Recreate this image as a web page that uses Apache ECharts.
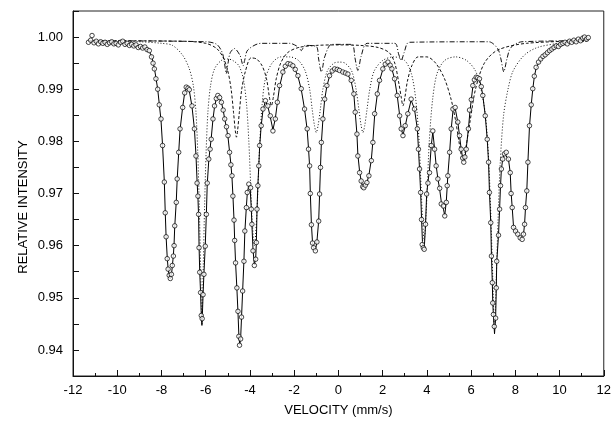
<!DOCTYPE html>
<html><head><meta charset="utf-8">
<script src="https://cdn.jsdelivr.net/npm/echarts@6/dist/echarts.min.js"></script>
<style>html,body{margin:0;padding:0;background:#fff}#c{width:614px;height:424px}</style>
</head><body><div id="c"></div>
<script>
// measured points (velocity mm/s, relative intensity)
const dataV = [-11.30,-11.20,-11.14,-11.05,-10.95,-10.85,-10.75,-10.65,-10.55,-10.45,-10.35,-10.25,-10.15,-10.05,-9.95,-9.85,-9.75,-9.65,-9.55,-9.45,-9.35,-9.25,-9.15,-9.05,-8.95,-8.85,-8.75,-8.65,-8.55,-8.45,-8.38,-8.32,-8.25,-8.17,-8.10,-8.02,-7.95,-7.87,-7.83,-7.79,-7.74,-7.70,-7.65,-7.60,-7.55,-7.51,-7.46,-7.43,-7.40,-7.33,-7.29,-7.22,-7.16,-7.04,-6.95,-6.88,-6.80,-6.74,-6.62,-6.51,-6.44,-6.39,-6.35,-6.32,-6.30,-6.27,-6.23,-6.20,-6.16,-6.12,-6.08,-6.02,-5.97,-5.93,-5.86,-5.80,-5.75,-5.67,-5.60,-5.52,-5.45,-5.37,-5.29,-5.21,-5.14,-5.06,-4.99,-4.92,-4.86,-4.81,-4.77,-4.72,-4.69,-4.65,-4.59,-4.54,-4.50,-4.47,-4.42,-4.38,-4.33,-4.27,-4.23,-4.16,-4.12,-4.05,-3.97,-3.94,-3.91,-3.86,-3.80,-3.74,-3.71,-3.68,-3.64,-3.60,-3.56,-3.49,-3.41,-3.30,-3.19,-3.08,-2.96,-2.85,-2.76,-2.66,-2.51,-2.40,-2.28,-2.17,-2.06,-1.95,-1.83,-1.68,-1.53,-1.41,-1.35,-1.30,-1.27,-1.22,-1.17,-1.12,-1.04,-0.97,-0.89,-0.85,-0.81,-0.77,-0.70,-0.62,-0.52,-0.40,-0.28,-0.17,-0.05,0.05,0.20,0.32,0.43,0.58,0.70,0.76,0.84,0.88,0.96,1.03,1.10,1.15,1.22,1.29,1.38,1.49,1.56,1.64,1.76,1.86,2.01,2.12,2.24,2.34,2.42,2.54,2.66,2.77,2.84,2.92,3.02,3.14,3.29,3.44,3.57,3.62,3.67,3.72,3.76,3.79,3.84,3.88,3.94,3.99,4.05,4.12,4.20,4.27,4.35,4.42,4.50,4.58,4.65,4.75,4.81,4.88,4.92,4.95,5.03,5.10,5.18,5.28,5.40,5.48,5.55,5.62,5.67,5.72,5.78,5.88,5.93,6.01,6.08,6.15,6.23,6.30,6.38,6.46,6.53,6.64,6.73,6.79,6.83,6.89,6.92,6.96,6.98,7.01,7.05,7.11,7.14,7.16,7.24,7.29,7.33,7.37,7.43,7.51,7.59,7.69,7.77,7.81,7.86,7.92,8.01,8.11,8.22,8.31,8.37,8.42,8.46,8.52,8.57,8.64,8.72,8.79,8.86,8.94,9.05,9.15,9.25,9.35,9.45,9.55,9.65,9.75,9.85,9.95,10.05,10.15,10.25,10.35,10.45,10.55,10.65,10.75,10.85,10.95,11.05,11.13,11.22,11.30];
const dataY = [0.9990,0.9994,1.0003,0.9989,0.9992,0.9987,0.9991,0.9988,0.9990,0.9986,0.9989,0.9991,0.9987,0.9988,0.9985,0.9990,0.9992,0.9986,0.9988,0.9984,0.9986,0.9983,0.9985,0.9980,0.9982,0.9979,0.9981,0.9976,0.9974,0.9962,0.9950,0.9939,0.9920,0.9900,0.9870,0.9843,0.9792,0.9722,0.9663,0.9617,0.9575,0.9555,0.9543,0.9537,0.9545,0.9562,0.9580,0.9600,0.9638,0.9683,0.9728,0.9779,0.9824,0.9865,0.9893,0.9904,0.9902,0.9899,0.9868,0.9824,0.9772,0.9720,0.9695,0.9660,0.9596,0.9549,0.9510,0.9466,0.9460,0.9506,0.9545,0.9599,0.9660,0.9720,0.9766,0.9785,0.9804,0.9843,0.9868,0.9882,0.9888,0.9884,0.9875,0.9860,0.9843,0.9828,0.9811,0.9779,0.9755,0.9734,0.9695,0.9649,0.9610,0.9567,0.9519,0.9474,0.9426,0.9409,0.9421,0.9463,0.9513,0.9570,0.9628,0.9673,0.9702,0.9718,0.9711,0.9670,0.9641,0.9590,0.9562,0.9574,0.9606,0.9670,0.9715,0.9753,0.9792,0.9830,0.9862,0.9878,0.9868,0.9849,0.9820,0.9843,0.9875,0.9907,0.9933,0.9944,0.9949,0.9948,0.9945,0.9938,0.9926,0.9901,0.9862,0.9824,0.9785,0.9753,0.9700,0.9640,0.9605,0.9596,0.9590,0.9607,0.9647,0.9699,0.9750,0.9798,0.9843,0.9881,0.9907,0.9926,0.9935,0.9939,0.9938,0.9936,0.9933,0.9931,0.9929,0.9917,0.9891,0.9856,0.9814,0.9772,0.9740,0.9724,0.9713,0.9711,0.9716,0.9721,0.9734,0.9763,0.9798,0.9853,0.9891,0.9917,0.9939,0.9948,0.9952,0.9946,0.9939,0.9920,0.9888,0.9849,0.9824,0.9811,0.9830,0.9853,0.9881,0.9862,0.9824,0.9785,0.9747,0.9702,0.9650,0.9602,0.9596,0.9593,0.9641,0.9699,0.9720,0.9740,0.9792,0.9820,0.9785,0.9753,0.9728,0.9710,0.9680,0.9676,0.9657,0.9683,0.9715,0.9734,0.9779,0.9824,0.9862,0.9865,0.9837,0.9811,0.9785,0.9768,0.9760,0.9770,0.9785,0.9824,0.9860,0.9880,0.9907,0.9918,0.9923,0.9922,0.9920,0.9905,0.9888,0.9849,0.9804,0.9760,0.9702,0.9644,0.9580,0.9529,0.9490,0.9468,0.9445,0.9461,0.9519,0.9570,0.9620,0.9670,0.9715,0.9747,0.9766,0.9776,0.9779,0.9766,0.9740,0.9700,0.9673,0.9635,0.9628,0.9622,0.9615,0.9612,0.9622,0.9641,0.9673,0.9705,0.9760,0.9830,0.9870,0.9901,0.9925,0.9942,0.9952,0.9958,0.9963,0.9966,0.9970,0.9974,0.9977,0.9980,0.9983,0.9982,0.9986,0.9988,0.9990,0.9987,0.9992,0.9990,0.9994,0.9991,0.9996,0.9993,0.9998,1.0000,0.9996,0.9999];

// fitted envelope (solid line)
const fitV = [-11.3,-10.5,-9.8,-9.3,-9.0,-8.75,-8.55,-8.45,-8.38,-8.32,-8.25,-8.17,-8.10,-8.02,-7.95,-7.87,-7.83,-7.79,-7.74,-7.70,-7.65,-7.60,-7.55,-7.51,-7.46,-7.43,-7.40,-7.33,-7.29,-7.22,-7.16,-7.04,-6.95,-6.88,-6.80,-6.74,-6.62,-6.51,-6.44,-6.39,-6.35,-6.32,-6.30,-6.27,-6.23,-6.20,-6.17,-6.14,-6.12,-6.08,-6.02,-5.97,-5.93,-5.86,-5.80,-5.75,-5.67,-5.60,-5.52,-5.45,-5.37,-5.29,-5.21,-5.14,-5.06,-4.99,-4.92,-4.86,-4.81,-4.77,-4.72,-4.69,-4.65,-4.59,-4.54,-4.50,-4.46,-4.42,-4.38,-4.33,-4.27,-4.23,-4.16,-4.12,-4.05,-3.99,-3.94,-3.91,-3.86,-3.80,-3.74,-3.71,-3.68,-3.64,-3.60,-3.56,-3.49,-3.41,-3.30,-3.19,-3.08,-2.96,-2.85,-2.76,-2.66,-2.51,-2.40,-2.28,-2.17,-2.06,-1.95,-1.83,-1.68,-1.53,-1.41,-1.35,-1.30,-1.27,-1.22,-1.17,-1.12,-1.04,-0.97,-0.89,-0.85,-0.81,-0.77,-0.70,-0.62,-0.52,-0.40,-0.28,-0.17,-0.05,0.05,0.20,0.32,0.43,0.58,0.70,0.76,0.84,0.88,0.96,1.03,1.10,1.15,1.22,1.29,1.38,1.49,1.56,1.64,1.76,1.86,2.01,2.12,2.24,2.34,2.42,2.54,2.66,2.77,2.84,2.92,3.02,3.14,3.29,3.44,3.57,3.62,3.67,3.72,3.76,3.80,3.84,3.88,3.94,3.99,4.05,4.12,4.20,4.27,4.35,4.42,4.50,4.58,4.65,4.75,4.81,4.88,4.92,4.95,5.03,5.10,5.18,5.28,5.40,5.48,5.55,5.62,5.67,5.72,5.78,5.88,5.95,6.01,6.08,6.15,6.23,6.30,6.38,6.46,6.53,6.64,6.73,6.79,6.83,6.89,6.92,6.96,6.98,7.01,7.06,7.11,7.14,7.16,7.24,7.29,7.33,7.37,7.43,7.51,7.59,7.69,7.77,7.81,7.86,7.92,8.01,8.11,8.22,8.31,8.37,8.42,8.46,8.52,8.57,8.64,8.72,8.79,8.86,8.94,9.05,9.25,9.5,9.8,10.2,10.7,11.3];
const fitY = [0.9991,0.9990,0.9988,0.9985,0.9982,0.9978,0.9972,0.9964,0.9952,0.9940,0.9922,0.9900,0.9872,0.9840,0.9792,0.9722,0.9665,0.9617,0.9578,0.9556,0.9542,0.9536,0.9543,0.9560,0.9582,0.9603,0.9636,0.9685,0.9726,0.9779,0.9822,0.9866,0.9893,0.9903,0.9902,0.9897,0.9867,0.9824,0.9774,0.9724,0.9692,0.9655,0.9600,0.9550,0.9508,0.9468,0.9447,0.9480,0.9506,0.9546,0.9600,0.9660,0.9718,0.9764,0.9787,0.9806,0.9843,0.9866,0.9882,0.9887,0.9884,0.9875,0.9860,0.9843,0.9826,0.9808,0.9780,0.9756,0.9730,0.9697,0.9650,0.9611,0.9568,0.9518,0.9472,0.9428,0.9410,0.9422,0.9462,0.9513,0.9572,0.9626,0.9675,0.9700,0.9716,0.9710,0.9672,0.9640,0.9592,0.9563,0.9575,0.9605,0.9668,0.9716,0.9752,0.9790,0.9830,0.9860,0.9877,0.9867,0.9847,0.9822,0.9844,0.9874,0.9905,0.9932,0.9943,0.9948,0.9947,0.9944,0.9937,0.9925,0.9900,0.9862,0.9822,0.9786,0.9752,0.9702,0.9642,0.9606,0.9595,0.9590,0.9608,0.9648,0.9698,0.9750,0.9796,0.9842,0.9880,0.9906,0.9925,0.9935,0.9938,0.9937,0.9936,0.9933,0.9931,0.9928,0.9915,0.9890,0.9857,0.9813,0.9775,0.9742,0.9724,0.9713,0.9711,0.9715,0.9721,0.9735,0.9765,0.9800,0.9850,0.9890,0.9916,0.9938,0.9947,0.9950,0.9946,0.9939,0.9920,0.9888,0.9850,0.9825,0.9812,0.9829,0.9853,0.9879,0.9862,0.9824,0.9786,0.9746,0.9702,0.9652,0.9608,0.9596,0.9592,0.9640,0.9698,0.9722,0.9745,0.9792,0.9818,0.9786,0.9754,0.9728,0.9708,0.9685,0.9670,0.9658,0.9685,0.9713,0.9735,0.9779,0.9823,0.9858,0.9864,0.9837,0.9810,0.9786,0.9768,0.9761,0.9769,0.9786,0.9824,0.9858,0.9880,0.9905,0.9917,0.9922,0.9921,0.9918,0.9905,0.9888,0.9850,0.9804,0.9760,0.9704,0.9644,0.9582,0.9530,0.9492,0.9465,0.9431,0.9462,0.9518,0.9568,0.9620,0.9670,0.9714,0.9746,0.9766,0.9776,0.9779,0.9766,0.9740,0.9702,0.9673,0.9636,0.9627,0.9621,0.9615,0.9612,0.9621,0.9642,0.9672,0.9706,0.9760,0.9828,0.9870,0.9900,0.9924,0.9940,0.9950,0.9962,0.9972,0.9981,0.9988,0.9993,0.9996];

// subspectrum 1 (fine dotted)
const c1V = [-11.3,-9.0,-8.0,-7.5,-7.04,-6.74,-6.56,-6.44,-6.36,-6.29,-6.23,-6.17,-6.11,-6.05,-5.98,-5.90,-5.78,-5.60,-5.30,-5.00,-4.77,-4.50,-4.30,-4.15,-4.05,-3.97,-3.90,-3.80,-3.70,-3.63,-3.55,-3.45,-3.30,-3.00,-2.60,-2.20,-1.80,-1.50,-1.30,-1.18,-1.08,-1.00,-0.92,-0.82,-0.70,-0.50,-0.20,0.05,0.30,0.60,0.80,0.93,1.03,1.11,1.19,1.29,1.42,1.62,2.00,2.50,3.00,3.30,3.50,3.65,3.75,3.82,3.88,3.94,4.01,4.11,4.26,4.46,4.80,5.30,5.80,6.20,6.45,6.65,6.80,6.90,6.98,7.06,7.14,7.22,7.32,7.47,7.67,7.90,8.40,9.00,10.0,11.3];
const c1Y = [0.9993,0.9991,0.9988,0.9984,0.9965,0.9939,0.9907,0.9856,0.9780,0.9676,0.9560,0.9450,0.9560,0.9676,0.9780,0.9856,0.9907,0.9939,0.9955,0.9958,0.9955,0.9945,0.9920,0.9870,0.9800,0.9720,0.9650,0.9600,0.9650,0.9720,0.9800,0.9870,0.9920,0.9950,0.9962,0.9962,0.9955,0.9935,0.9900,0.9860,0.9830,0.9817,0.9830,0.9860,0.9900,0.9935,0.9950,0.9952,0.9950,0.9935,0.9900,0.9860,0.9830,0.9817,0.9830,0.9860,0.9900,0.9935,0.9955,0.9962,0.9955,0.9930,0.9880,0.9800,0.9700,0.9640,0.9610,0.9640,0.9700,0.9800,0.9880,0.9930,0.9955,0.9962,0.9955,0.9935,0.9900,0.9850,0.9760,0.9650,0.9540,0.9440,0.9540,0.9650,0.9760,0.9850,0.9900,0.9935,0.9965,0.9980,0.9988,0.9992];

// subspectrum 2 (dashed)
const c2V = [-11.3,-7.0,-6.0,-5.5,-5.2,-5.0,-4.85,-4.74,-4.66,-4.61,-4.56,-4.48,-4.37,-4.20,-3.95,-3.70,-3.45,-3.25,-3.12,-3.03,-2.94,-2.81,-2.61,-2.30,-1.8,-1.0,0.0,1.0,1.8,2.30,2.55,2.74,2.84,2.92,3.01,3.12,3.32,3.60,4.00,4.40,4.80,5.10,5.30,5.45,5.55,5.63,5.71,5.81,5.96,6.20,6.60,7.20,8.5,11.3];
const c2Y = [0.9993,0.9992,0.9988,0.9978,0.9960,0.9935,0.9900,0.9855,0.9820,0.9808,0.9820,0.9855,0.9900,0.9935,0.9960,0.9958,0.9945,0.9920,0.9885,0.9868,0.9885,0.9920,0.9950,0.9970,0.9980,0.9984,0.9985,0.9984,0.9980,0.9970,0.9950,0.9910,0.9885,0.9868,0.9885,0.9915,0.9945,0.9962,0.9962,0.9950,0.9920,0.9880,0.9840,0.9800,0.9775,0.9766,0.9775,0.9800,0.9840,0.9900,0.9950,0.9975,0.9988,0.9993];

// subspectrum 3 (dash-dot)
const c3V = [-11.3,-6.0,-5.5,-5.25,-5.15,-5.07,-4.99,-4.89,-4.70,-4.45,-4.38,-4.31,-4.24,-4.10,-3.5,-2.2,-1.85,-1.75,-1.68,-1.61,-1.50,-1.0,-0.90,-0.83,-0.77,-0.71,-0.62,-0.3,0.6,0.75,0.82,0.88,0.94,1.02,1.3,2.55,2.72,2.79,2.84,2.89,2.97,3.2,6.8,7.2,7.35,7.42,7.48,7.54,7.62,7.80,8.3,11.3];
const c3Y = [0.9993,0.9991,0.9986,0.9970,0.9950,0.9930,0.9950,0.9970,0.9978,0.9965,0.9955,0.9945,0.9955,0.9975,0.9988,0.9988,0.9982,0.9978,0.9974,0.9978,0.9984,0.9982,0.9960,0.9942,0.9933,0.9942,0.9962,0.9986,0.9986,0.9960,0.9944,0.9936,0.9944,0.9962,0.9988,0.9988,0.9968,0.9959,0.9955,0.9959,0.9970,0.9990,0.9991,0.9978,0.9958,0.9942,0.9933,0.9942,0.9958,0.9980,0.9991,0.9993];

const xTicks = {min: -12, max: 12, step: 2};
const yTicks = {min: 0.935, max: 1.005, step: 0.005};

function pairs(a, b) { return a.map((v, i) => [v, b[i]]); }

const chart = echarts.init(document.getElementById('c'), null, {renderer: 'canvas'});
const txt = {fontFamily: 'Liberation Sans, Arial, sans-serif', color: '#000', fontSize: 13};
chart.setOption({
  animation: false,
  backgroundColor: '#fff',
  grid: {left: 73, right: 10, top: 11, bottom: 48, show: true, borderColor: '#222', borderWidth: 1},
  xAxis: {
    type: 'value', min: xTicks.min, max: xTicks.max, interval: xTicks.step,
    name: 'VELOCITY (mm/s)', nameLocation: 'middle', nameGap: 28,
    nameTextStyle: Object.assign({}, txt),
    axisLine: {onZero: false, lineStyle: {color: '#111', width: 1}},
    axisTick: {inside: true, length: 6, lineStyle: {color: '#111'}},
    minorTick: {show: true, splitNumber: 2, length: 3, lineStyle: {color: '#111'}},
    axisLabel: Object.assign({margin: 8}, txt),
    splitLine: {show: false}
  },
  yAxis: {
    type: 'value', min: yTicks.min, max: yTicks.max, interval: yTicks.step,
    axisLine: {onZero: false, lineStyle: {color: '#111', width: 1}},
    axisTick: {inside: true, length: 6, lineStyle: {color: '#111'}},
    axisLabel: Object.assign({margin: 10, formatter: function (v) {
      const k = v * 100;
      return Math.abs(k - Math.round(k)) < 1e-6 ? v.toFixed(2) : '';
    }}, txt),
    splitLine: {show: false}
  },
  graphic: [{
    type: 'text', x: 23, y: 207, rotation: Math.PI / 2,
    style: {text: 'RELATIVE INTENSITY', font: '13px "Liberation Sans", Arial, sans-serif', fill: '#000', textAlign: 'center', textVerticalAlign: 'middle'}
  }],
  series: [
    {type: 'line', data: pairs(c1V, c1Y), showSymbol: false, smooth: 0.3, lineStyle: {color: '#111', width: 1, type: [1, 2]}, z: 1},
    {type: 'line', data: pairs(c2V, c2Y), showSymbol: false, smooth: 0.3, lineStyle: {color: '#111', width: 1, type: [3, 2]}, z: 1},
    {type: 'line', data: pairs(c3V, c3Y), showSymbol: false, smooth: 0.3, lineStyle: {color: '#111', width: 1, type: [5, 2, 1, 2]}, z: 1},
    {type: 'line', data: pairs(fitV, fitY), showSymbol: false, lineStyle: {color: '#000', width: 1}, z: 2},
    {type: 'scatter', data: pairs(dataV, dataY), symbol: 'circle', symbolSize: 4.5,
     itemStyle: {color: '#fff', borderColor: '#000', borderWidth: 0.9}, z: 3}
  ]
});
</script>
</body></html>
